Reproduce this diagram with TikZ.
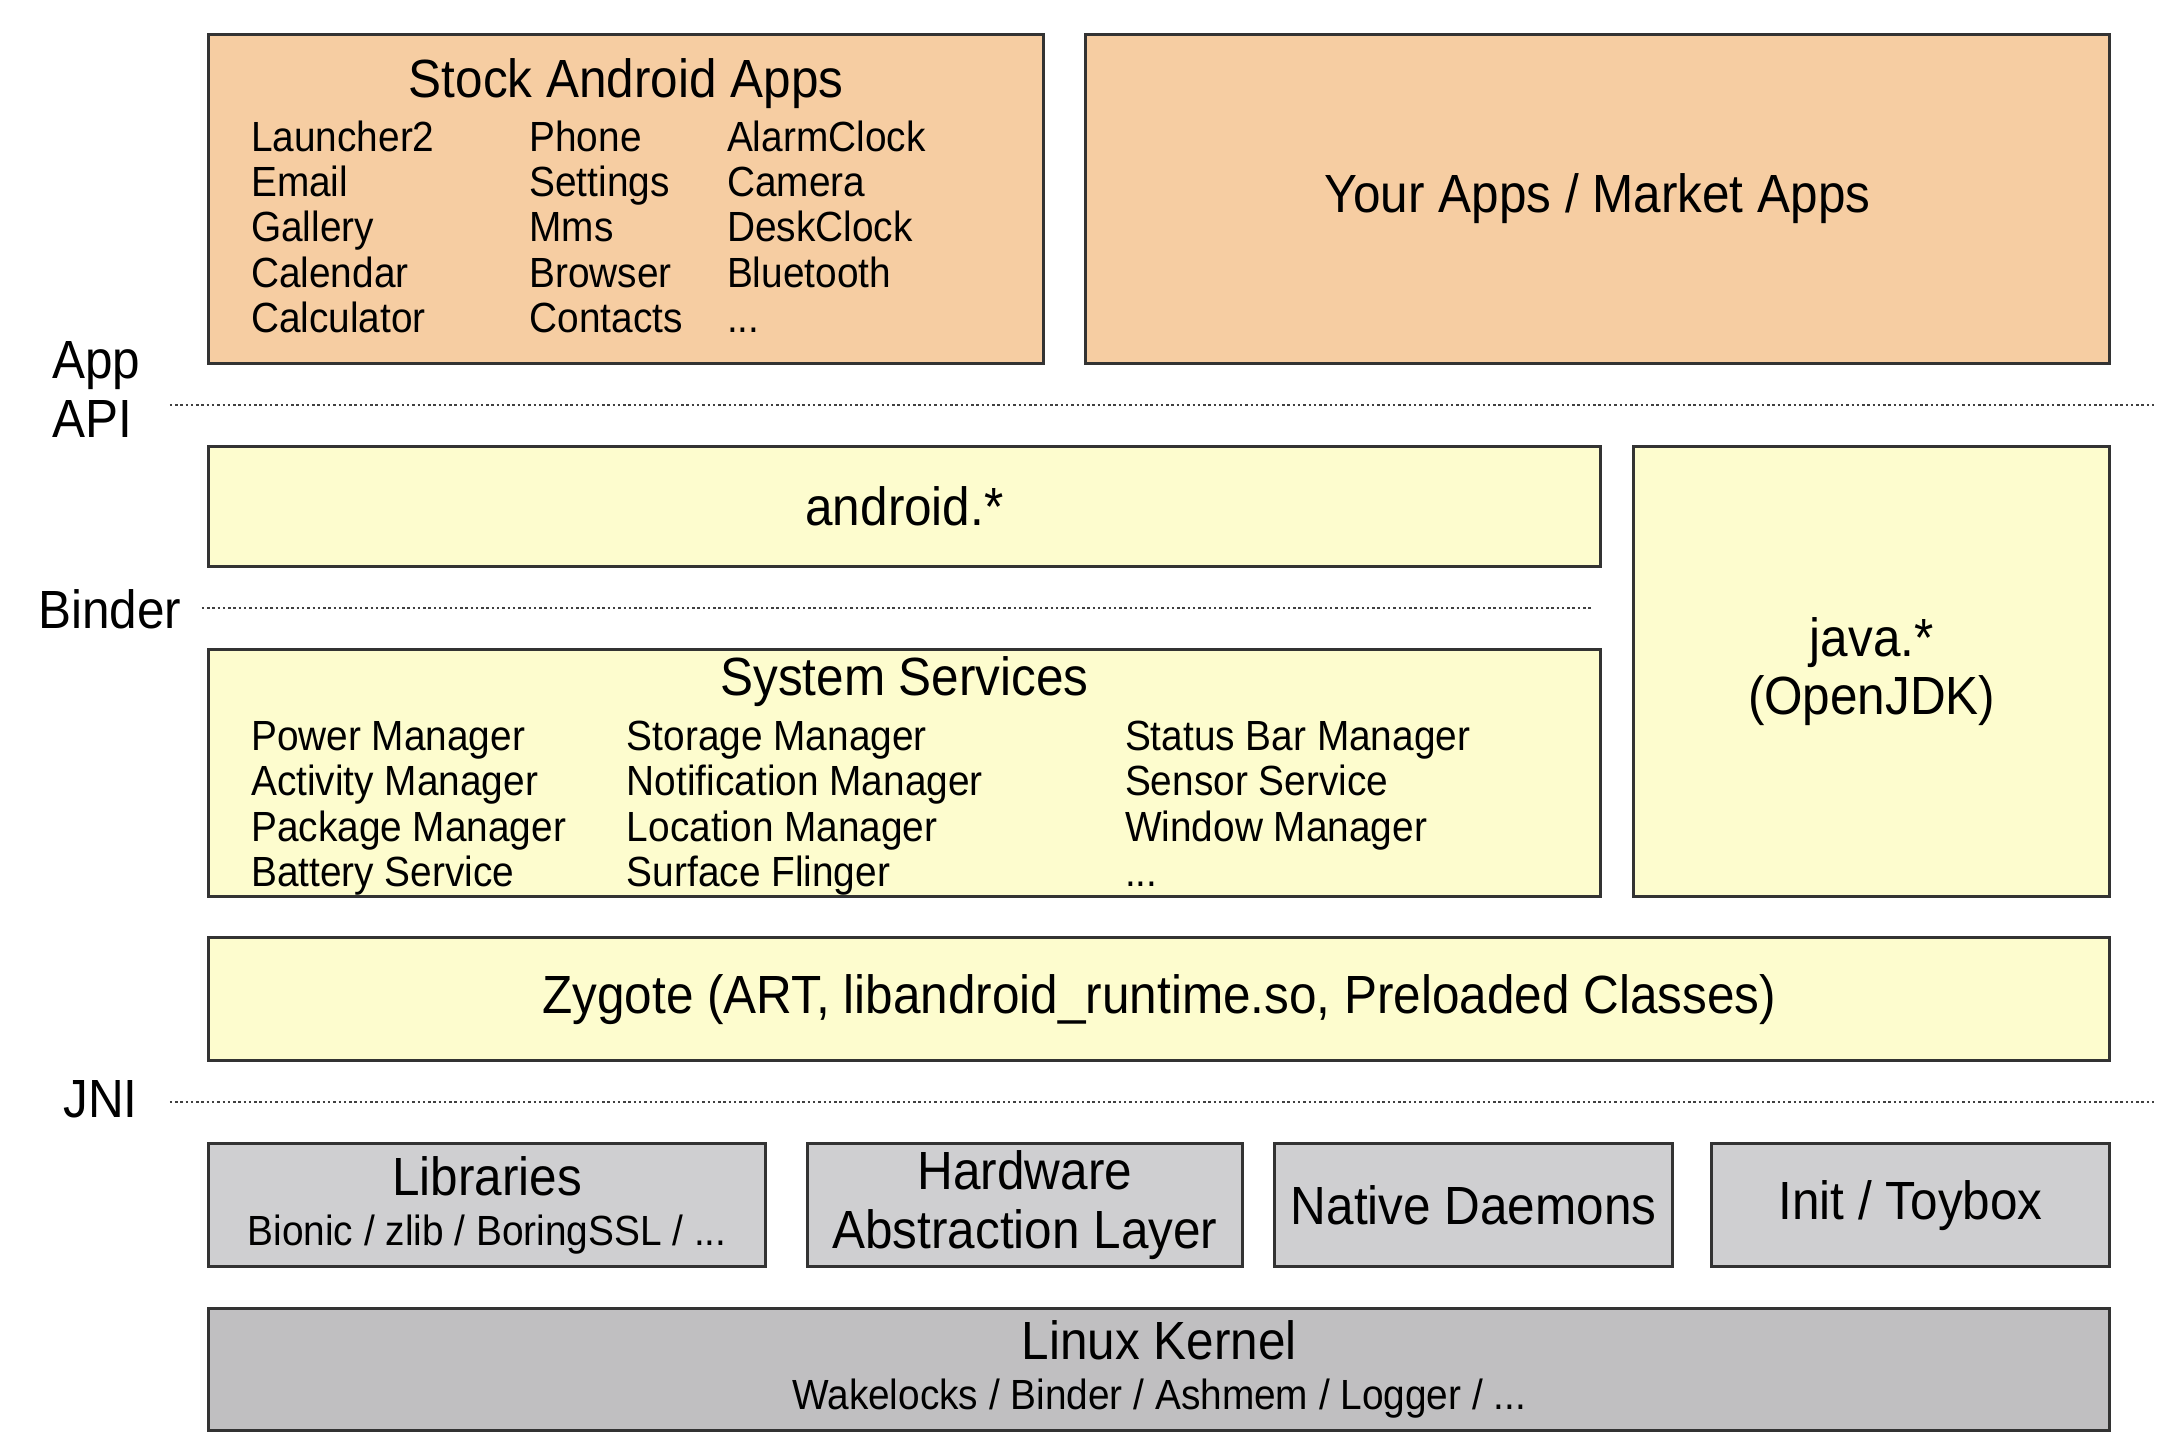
\documentclass[tikz,border=0pt]{standalone}
\usepackage{fontspec}
\setmainfont{Liberation Sans}[FakeStretch=0.92]
\definecolor{appcol}{RGB}{246,205,162}
\definecolor{fwcol}{RGB}{253,252,206}
\definecolor{natcol}{RGB}{207,207,209}
\definecolor{kercol}{RGB}{192,191,193}
\newcommand{\txtbig}{\fontsize{15.3}{16.6}\selectfont\lineskiplimit=-20pt}
\newcommand{\txtsmall}{\fontsize{12}{12.9}\selectfont\lineskiplimit=-20pt}

\begin{document}
\begin{tikzpicture}[
    layer/.style={draw=black!80,line width=0.8pt,inner sep=0pt},
    sep/.style={line width=0.7pt,black!75,dash pattern=on 0.7pt off 0.8pt},
    lbl/.style={font=\txtbig,anchor=west,align=left,inner sep=0pt},
    col/.style={font=\txtsmall,anchor=base west,align=left,inner sep=0pt},
  ]
    \fill[white] (0,0) rectangle (21.82,14.52);
    \useasboundingbox (0,0) rectangle (21.82,14.52);

    % apps
    \draw node at (6.262,12.53)[name=stock,layer,fill=appcol,minimum width=8.35cm,minimum height=3.284cm]{};
    \draw node at (6.262,13.685)[name=stocktitle,font=\txtbig]{Stock Android Apps};
    \draw node at (2.505,11.194)[name=stocka,col]{Launcher2\\Email\\Gallery\\Calendar\\Calculator};
    \draw node at (5.288,11.194)[name=stockb,col]{Phone\\Settings\\Mms\\Browser\\Contacts};
    \draw node at (7.264,11.194)[name=stockc,col]{AlarmClock\\Camera\\DeskClock\\Bluetooth\\...};
    \draw node at (15.976,12.53)[name=yourapps,layer,fill=appcol,minimum width=10.243cm,minimum height=3.284cm,font=\txtbig]{Your Apps / Market Apps};

    % app api
    \draw node at (0.515,10.624)[name=appapi,lbl]{App\\API};
    \coordinate (apil) at (1.698,10.47);
    \coordinate (apir) at (21.542,10.47);
    \draw[sep] (apil) -- (apir);

    % framework
    \draw node at (9.045,9.4545)[name=android,layer,fill=fwcol,minimum width=13.916cm,minimum height=1.197cm,font=\txtbig]{android.*};
    \draw node at (18.717,7.8055)[name=java,layer,fill=fwcol,minimum width=4.76cm,minimum height=4.495cm,font=\txtbig,align=center]{java.*\\(OpenJDK)};

    % binder
    \draw node at (0.376,8.425)[name=binder,lbl]{Binder};
    \coordinate (binl) at (2.018,8.439);
    \coordinate (binr) at (15.934,8.439);
    \draw[sep] (binl) -- (binr);

    % system services
    \draw node at (9.045,6.7895)[name=sysserv,layer,fill=fwcol,minimum width=13.916cm,minimum height=2.463cm]{};
    \draw node at (9.045,7.701)[name=systitle,font=\txtbig]{System Services};
    \draw node at (2.505,5.656)[name=sysa,col]{Power Manager\\Activity Manager\\Package Manager\\Battery Service};
    \draw node at (6.262,5.656)[name=sysb,col]{Storage Manager\\Notification Manager\\Location Manager\\Surface Flinger};
    \draw node at (11.244,5.656)[name=sysc,col]{Status Bar Manager\\Sensor Service\\Window Manager\\...};

    % zygote
    \draw node at (11.592,4.5285)[name=zygote,layer,fill=fwcol,minimum width=19.01cm,minimum height=1.225cm,font=\txtbig]{Zygote (ART, libandroid\_runtime.so, Preloaded Classes)};

    % jni
    \draw node at (0.626,3.526)[name=jni,lbl]{JNI};
    \coordinate (jnil) at (1.698,3.499);
    \coordinate (jnir) at (21.542,3.499);
    \draw[sep] (jnil) -- (jnir);

    % native
    \draw node at (4.8705,2.4685)[name=libs,layer,fill=natcol,minimum width=5.567cm,minimum height=1.225cm,font=\txtsmall,align=center]{{\txtbig Libraries}\\[1.4pt]Bionic / zlib / BoringSSL / ...};
    \draw node at (10.249,2.4685)[name=hal,layer,fill=natcol,minimum width=4.356cm,minimum height=1.225cm,font=\txtbig,align=center]{Hardware\\Abstraction Layer};
    \draw node at (14.737,2.4685)[name=daemons,layer,fill=natcol,minimum width=3.98cm,minimum height=1.225cm,font=\txtbig]{Native Daemons};
    \draw node at (19.107,2.4685)[name=init,layer,fill=natcol,minimum width=3.98cm,minimum height=1.225cm,font=\txtbig]{Init / Toybox};

    % kernel
    \draw node at (11.592,0.8265)[name=kernel,layer,fill=kercol,minimum width=19.01cm,minimum height=1.225cm,font=\txtsmall,align=center]{{\txtbig Linux Kernel}\\[1.4pt]Wakelocks / Binder / Ashmem / Logger / ...};
\end{tikzpicture}
\end{document}
